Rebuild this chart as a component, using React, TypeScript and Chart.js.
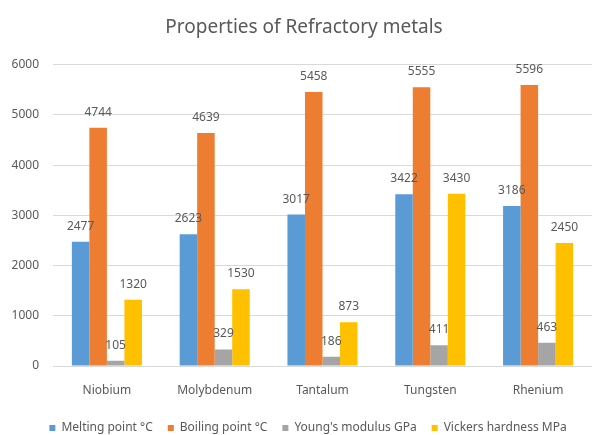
import React, { useEffect, useRef } from "react";
import { Chart, registerables } from "chart.js";

Chart.register(...registerables);

const categories = ["Niobium", "Molybdenum", "Tantalum", "Tungsten", "Rhenium"];
const meltingPoint = [2477, 2623, 3017, 3422, 3186];
const boilingPoint = [4744, 4639, 5458, 5555, 5596];
const youngsModulus = [105, 329, 186, 411, 463];
const vickersHardness = [1320, 1530, 873, 3430, 2450];
const seriesNames = ["Melting point °C", "Boiling point °C", "Young's modulus GPa", "Vickers hardness MPa"];
const seriesColors = ["#5B9BD5", "#ED7D31", "#A5A5A5", "#FFC000"];
const chartTitle = "Properties of Refractory metals";

const FONT = "'Noto Sans', 'Open Sans', sans-serif";
const TEXT = "#595959";

const labelPlugin = {
  id: "valueLabels",
  afterDatasetsDraw(chart: any) {
    const ctx = chart.ctx;
    ctx.save();
    ctx.font = `12px ${FONT}`;
    ctx.fillStyle = TEXT;
    ctx.textAlign = "center";
    ctx.textBaseline = "alphabetic";
    chart.data.datasets.forEach((ds: any, i: number) => {
      const meta = chart.getDatasetMeta(i);
      meta.data.forEach((bar: any, j: number) => {
        ctx.fillText(String(ds.data[j]), bar.x, bar.y - 12);
      });
    });
    ctx.restore();
  },
};

const shiftPlugin = {
  id: "shiftBlocks",
  afterLayout(chart: any) {
    const t = chart.titleBlock;
    if (t) {
      t.left += 8;
      t.right += 8;
    }
    const l = chart.legend;
    if (l) {
      l.left += 12;
      l.right += 12;
      const h = l.bottom - l.top;
      l.top = 407;
      l.bottom = 407 + h;
    }
    const x = chart.scales.x;
    if (x) x.bottom = 410;
  },
};

export default function App() {
  const ref = useRef<HTMLCanvasElement>(null);
  useEffect(() => {
    if (!ref.current) return;
    const data = [meltingPoint, boilingPoint, youngsModulus, vickersHardness];
    const chart = new Chart(ref.current, {
      type: "bar",
      data: {
        labels: categories,
        datasets: data.map((d, i) => ({
          label: seriesNames[i],
          data: d,
          backgroundColor: seriesColors[i],
          borderWidth: 0,
          categoryPercentage: 0.65,
          barPercentage: 1.0,
        })),
      },
      options: {
        animation: false,
        responsive: false,
        maintainAspectRatio: false,
        layout: { padding: 0 },
        plugins: {
          title: {
            display: true,
            text: chartTitle,
            color: TEXT,
            font: { family: FONT, size: 19, weight: "normal" },
            padding: { top: 16, bottom: 26 },
          },
          legend: {
            display: true,
            position: "bottom",
            labels: {
              color: TEXT,
              font: { family: FONT, size: 12 },
              boxWidth: 6,
              boxHeight: 6,
              padding: 15,
            },
          },
          tooltip: { enabled: false },
        },
        scales: {
          x: {
            grid: { display: false, drawTicks: false },
            border: { display: true, color: "#D9D9D9" },
            ticks: { color: TEXT, font: { family: FONT, size: 12 }, padding: 17 },
            afterFit: (s: any) => {
              s.height = 32;
            },
          },
          y: {
            min: 0,
            max: 6000,
            ticks: {
              stepSize: 1000,
              color: TEXT,
              font: { family: FONT, size: 12 },
              padding: 14,
              callback: (v: any) => String(v),
            },
            grid: { color: "#D9D9D9", drawTicks: false },
            border: { display: false },
            afterFit: (s: any) => {
              s.width = 53;
            },
          },
        },
      },
      plugins: [labelPlugin, shiftPlugin],
    });
    return () => chart.destroy();
  }, []);
  return (
    <div style={{ position: "fixed", left: 0, top: 0, width: 592, height: 435, background: "#fff", overflow: "hidden" }}>
      <canvas ref={ref} width={592} height={435} style={{ width: 592, height: 435 }} />
    </div>
  );
}
